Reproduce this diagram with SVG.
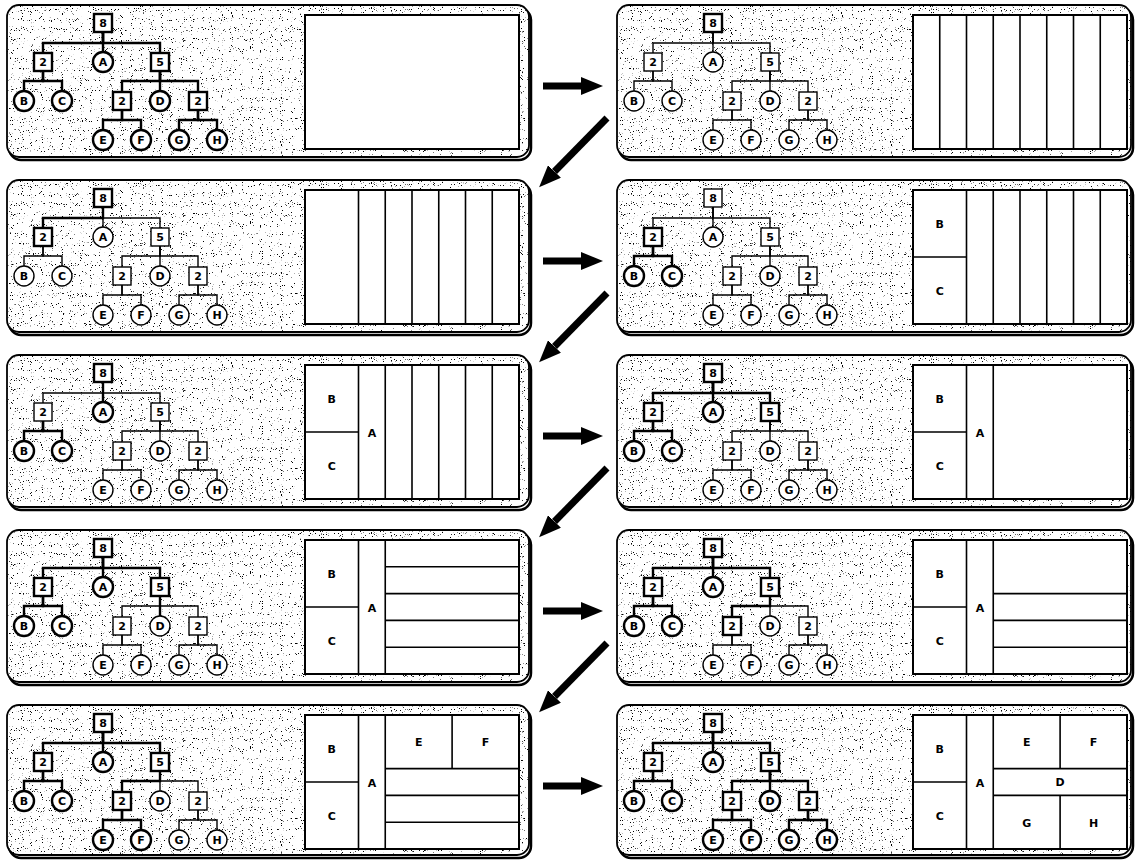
<svg xmlns="http://www.w3.org/2000/svg" width="1135" height="860" viewBox="0 0 1135 860">
<defs>
<style>
.sh{fill:none;stroke:#000;stroke-width:2.5}
.pb{fill:#fff;stroke:#000;stroke-width:1.8}
.gr{fill:#000;filter:url(#grain)}
.nb{fill:#fff;stroke:#000;stroke-width:2.4}
.nt{fill:#fff;stroke:#000;stroke-width:1.4}
.eb{fill:none;stroke:#000;stroke-width:2.4}
.et{fill:none;stroke:#000;stroke-width:1.4}
.tb{fill:#fff;stroke:#000;stroke-width:2}
.tl{fill:none;stroke:#000;stroke-width:1.6}
.arr{stroke:#000;stroke-width:7;fill:none;marker-end:url(#ah)}
text{font-family:"DejaVu Sans","Liberation Sans",sans-serif;font-weight:bold;font-size:11px;text-anchor:middle;fill:#000}
</style>
<filter id="grain" x="0" y="0" width="100%" height="100%">
<feTurbulence type="fractalNoise" baseFrequency="1.1" numOctaves="1" seed="5" result="t"/>
<feColorMatrix in="t" type="matrix" values="0 0 0 0 0  0 0 0 0 0  0 0 0 0 0  -18 0 0 0 6.1" result="d"/>
<feComposite in="d" in2="SourceAlpha" operator="in"/>
</filter>
<marker id="ah" viewBox="0 0 22 18" refX="0" refY="9" markerWidth="22" markerHeight="18" markerUnits="userSpaceOnUse" orient="auto">
<path d="M0 0L22 9L0 18z" fill="#000"/>
</marker>
</defs>

<!-- Panel 1 -->
<g id="p1" transform="translate(7,5)">
<rect class="sh" x="2" y="3" width="522" height="152" rx="12"/>
<rect class="pb" width="522" height="152" rx="12"/>
<rect class="gr" width="522" height="152" rx="12"/>
<g>
<path class="eb" d="M96 27V38H36V48"/><path class="eb" d="M96 27V47"/><path class="eb" d="M96 27V38H153V48"/>
<path class="eb" d="M36 66V76H17V86"/><path class="eb" d="M36 66V76H55V86"/>
<path class="eb" d="M153 66V76H115V87"/><path class="eb" d="M153 66V86"/><path class="eb" d="M153 66V76H191V87"/>
<path class="eb" d="M115 105V115H96V125"/><path class="eb" d="M115 105V115H134V125"/>
<path class="eb" d="M191 105V115H172V125"/><path class="eb" d="M191 105V115H210V125"/>
</g>
<g id="p1-r"><rect class="nb" x="87" y="9" width="18" height="18"/><text x="96" y="22">8</text></g>
<g id="p1-2"><rect class="nb" x="27" y="48" width="18" height="18"/><text x="36" y="61">2</text></g>
<g id="p1-A"><circle class="nb" cx="96" cy="57" r="10"/><text x="96" y="61">A</text></g>
<g id="p1-5"><rect class="nb" x="144" y="48" width="18" height="18"/><text x="153" y="61">5</text></g>
<g id="p1-B"><circle class="nb" cx="17" cy="96" r="10"/><text x="17" y="100">B</text></g>
<g id="p1-C"><circle class="nb" cx="55" cy="96" r="10"/><text x="55" y="100">C</text></g>
<g id="p1-2a"><rect class="nb" x="106" y="87" width="18" height="18"/><text x="115" y="100">2</text></g>
<g id="p1-D"><circle class="nb" cx="153" cy="96" r="10"/><text x="153" y="100">D</text></g>
<g id="p1-2b"><rect class="nb" x="182" y="87" width="18" height="18"/><text x="191" y="100">2</text></g>
<g id="p1-E"><circle class="nb" cx="96" cy="135" r="10"/><text x="96" y="139">E</text></g>
<g id="p1-F"><circle class="nb" cx="134" cy="135" r="10"/><text x="134" y="139">F</text></g>
<g id="p1-G"><circle class="nb" cx="172" cy="135" r="10"/><text x="172" y="139">G</text></g>
<g id="p1-H"><circle class="nb" cx="210" cy="135" r="10"/><text x="210" y="139">H</text></g>
<g id="p1-map" transform="translate(298,10)">
<rect class="tb" width="214" height="134"/>
</g>
</g>

<!-- Panel 2 -->
<g id="p2" transform="translate(617,5)">
<rect class="sh" x="2" y="3" width="514" height="152" rx="12"/>
<rect class="pb" width="514" height="152" rx="12"/>
<rect class="gr" width="514" height="152" rx="12"/>
<g>
<path class="et" d="M96 27V38H36V48"/><path class="et" d="M96 27V47"/><path class="et" d="M96 27V38H153V48"/>
<path class="et" d="M36 66V76H17V86"/><path class="et" d="M36 66V76H55V86"/>
<path class="et" d="M153 66V76H115V87"/><path class="et" d="M153 66V86"/><path class="et" d="M153 66V76H191V87"/>
<path class="et" d="M115 105V115H96V125"/><path class="et" d="M115 105V115H134V125"/>
<path class="et" d="M191 105V115H172V125"/><path class="et" d="M191 105V115H210V125"/>
</g>
<g id="p2-r"><rect class="nb" x="87" y="9" width="18" height="18"/><text x="96" y="22">8</text></g>
<g id="p2-2"><rect class="nt" x="27" y="48" width="18" height="18"/><text x="36" y="61">2</text></g>
<g id="p2-A"><circle class="nt" cx="96" cy="57" r="10"/><text x="96" y="61">A</text></g>
<g id="p2-5"><rect class="nt" x="144" y="48" width="18" height="18"/><text x="153" y="61">5</text></g>
<g id="p2-B"><circle class="nt" cx="17" cy="96" r="10"/><text x="17" y="100">B</text></g>
<g id="p2-C"><circle class="nt" cx="55" cy="96" r="10"/><text x="55" y="100">C</text></g>
<g id="p2-2a"><rect class="nt" x="106" y="87" width="18" height="18"/><text x="115" y="100">2</text></g>
<g id="p2-D"><circle class="nt" cx="153" cy="96" r="10"/><text x="153" y="100">D</text></g>
<g id="p2-2b"><rect class="nt" x="182" y="87" width="18" height="18"/><text x="191" y="100">2</text></g>
<g id="p2-E"><circle class="nt" cx="96" cy="135" r="10"/><text x="96" y="139">E</text></g>
<g id="p2-F"><circle class="nt" cx="134" cy="135" r="10"/><text x="134" y="139">F</text></g>
<g id="p2-G"><circle class="nt" cx="172" cy="135" r="10"/><text x="172" y="139">G</text></g>
<g id="p2-H"><circle class="nt" cx="210" cy="135" r="10"/><text x="210" y="139">H</text></g>
<g id="p2-map" transform="translate(296,10)">
<rect class="tb" width="214" height="134"/>
<path class="tl" d="M26.75 0V134M53.5 0V134M80.25 0V134M107 0V134M133.75 0V134M160.5 0V134M187.25 0V134"/>
</g>
</g>

<!-- Panel 3 -->
<g id="p3" transform="translate(7,180)">
<rect class="sh" x="2" y="3" width="522" height="152" rx="12"/>
<rect class="pb" width="522" height="152" rx="12"/>
<rect class="gr" width="522" height="152" rx="12"/>
<g>
<path class="et" d="M96 27V47"/><path class="et" d="M96 27V38H153V48"/>
<path class="et" d="M36 66V76H17V86"/><path class="et" d="M36 66V76H55V86"/>
<path class="et" d="M153 66V76H115V87"/><path class="et" d="M153 66V86"/><path class="et" d="M153 66V76H191V87"/>
<path class="et" d="M115 105V115H96V125"/><path class="et" d="M115 105V115H134V125"/>
<path class="et" d="M191 105V115H172V125"/><path class="et" d="M191 105V115H210V125"/>
<path class="eb" d="M96 27V38H36V48"/>
</g>
<g id="p3-r"><rect class="nb" x="87" y="9" width="18" height="18"/><text x="96" y="22">8</text></g>
<g id="p3-2"><rect class="nb" x="27" y="48" width="18" height="18"/><text x="36" y="61">2</text></g>
<g id="p3-A"><circle class="nt" cx="96" cy="57" r="10"/><text x="96" y="61">A</text></g>
<g id="p3-5"><rect class="nt" x="144" y="48" width="18" height="18"/><text x="153" y="61">5</text></g>
<g id="p3-B"><circle class="nt" cx="17" cy="96" r="10"/><text x="17" y="100">B</text></g>
<g id="p3-C"><circle class="nt" cx="55" cy="96" r="10"/><text x="55" y="100">C</text></g>
<g id="p3-2a"><rect class="nt" x="106" y="87" width="18" height="18"/><text x="115" y="100">2</text></g>
<g id="p3-D"><circle class="nt" cx="153" cy="96" r="10"/><text x="153" y="100">D</text></g>
<g id="p3-2b"><rect class="nt" x="182" y="87" width="18" height="18"/><text x="191" y="100">2</text></g>
<g id="p3-E"><circle class="nt" cx="96" cy="135" r="10"/><text x="96" y="139">E</text></g>
<g id="p3-F"><circle class="nt" cx="134" cy="135" r="10"/><text x="134" y="139">F</text></g>
<g id="p3-G"><circle class="nt" cx="172" cy="135" r="10"/><text x="172" y="139">G</text></g>
<g id="p3-H"><circle class="nt" cx="210" cy="135" r="10"/><text x="210" y="139">H</text></g>
<g id="p3-map" transform="translate(298,10)">
<rect class="tb" width="214" height="134"/>
<path class="tl" d="M53.5 0V134M80.25 0V134M107 0V134M133.75 0V134M160.5 0V134M187.25 0V134"/>
</g>
</g>

<!-- Panel 4 -->
<g id="p4" transform="translate(617,180)">
<rect class="sh" x="2" y="3" width="514" height="152" rx="12"/>
<rect class="pb" width="514" height="152" rx="12"/>
<rect class="gr" width="514" height="152" rx="12"/>
<g>
<path class="et" d="M96 27V38H36V48"/><path class="et" d="M96 27V47"/><path class="et" d="M96 27V38H153V48"/>
<path class="et" d="M153 66V76H115V87"/><path class="et" d="M153 66V86"/><path class="et" d="M153 66V76H191V87"/>
<path class="et" d="M115 105V115H96V125"/><path class="et" d="M115 105V115H134V125"/>
<path class="et" d="M191 105V115H172V125"/><path class="et" d="M191 105V115H210V125"/>
<path class="eb" d="M36 66V76H17V86"/><path class="eb" d="M36 66V76H55V86"/>
</g>
<g id="p4-r"><rect class="nt" x="87" y="9" width="18" height="18"/><text x="96" y="22">8</text></g>
<g id="p4-2"><rect class="nb" x="27" y="48" width="18" height="18"/><text x="36" y="61">2</text></g>
<g id="p4-A"><circle class="nt" cx="96" cy="57" r="10"/><text x="96" y="61">A</text></g>
<g id="p4-5"><rect class="nt" x="144" y="48" width="18" height="18"/><text x="153" y="61">5</text></g>
<g id="p4-B"><circle class="nb" cx="17" cy="96" r="10"/><text x="17" y="100">B</text></g>
<g id="p4-C"><circle class="nb" cx="55" cy="96" r="10"/><text x="55" y="100">C</text></g>
<g id="p4-2a"><rect class="nt" x="106" y="87" width="18" height="18"/><text x="115" y="100">2</text></g>
<g id="p4-D"><circle class="nt" cx="153" cy="96" r="10"/><text x="153" y="100">D</text></g>
<g id="p4-2b"><rect class="nt" x="182" y="87" width="18" height="18"/><text x="191" y="100">2</text></g>
<g id="p4-E"><circle class="nt" cx="96" cy="135" r="10"/><text x="96" y="139">E</text></g>
<g id="p4-F"><circle class="nt" cx="134" cy="135" r="10"/><text x="134" y="139">F</text></g>
<g id="p4-G"><circle class="nt" cx="172" cy="135" r="10"/><text x="172" y="139">G</text></g>
<g id="p4-H"><circle class="nt" cx="210" cy="135" r="10"/><text x="210" y="139">H</text></g>
<g id="p4-map" transform="translate(296,10)">
<rect class="tb" width="214" height="134"/>
<path class="tl" d="M53.5 0V134M80.25 0V134M107 0V134M133.75 0V134M160.5 0V134M187.25 0V134M0 67H53.5"/>
<text x="26.75" y="38">B</text><text x="26.75" y="105">C</text>
</g>
</g>

<!-- Panel 5 -->
<g id="p5" transform="translate(7,355)">
<rect class="sh" x="2" y="3" width="522" height="152" rx="12"/>
<rect class="pb" width="522" height="152" rx="12"/>
<rect class="gr" width="522" height="152" rx="12"/>
<g>
<path class="et" d="M96 27V38H36V48"/><path class="et" d="M96 27V38H153V48"/>
<path class="et" d="M153 66V76H115V87"/><path class="et" d="M153 66V86"/><path class="et" d="M153 66V76H191V87"/>
<path class="et" d="M115 105V115H96V125"/><path class="et" d="M115 105V115H134V125"/>
<path class="et" d="M191 105V115H172V125"/><path class="et" d="M191 105V115H210V125"/>
<path class="eb" d="M96 27V47"/>
<path class="eb" d="M36 66V76H17V86"/><path class="eb" d="M36 66V76H55V86"/>
</g>
<g id="p5-r"><rect class="nb" x="87" y="9" width="18" height="18"/><text x="96" y="22">8</text></g>
<g id="p5-2"><rect class="nt" x="27" y="48" width="18" height="18"/><text x="36" y="61">2</text></g>
<g id="p5-A"><circle class="nb" cx="96" cy="57" r="10"/><text x="96" y="61">A</text></g>
<g id="p5-5"><rect class="nt" x="144" y="48" width="18" height="18"/><text x="153" y="61">5</text></g>
<g id="p5-B"><circle class="nb" cx="17" cy="96" r="10"/><text x="17" y="100">B</text></g>
<g id="p5-C"><circle class="nb" cx="55" cy="96" r="10"/><text x="55" y="100">C</text></g>
<g id="p5-2a"><rect class="nt" x="106" y="87" width="18" height="18"/><text x="115" y="100">2</text></g>
<g id="p5-D"><circle class="nt" cx="153" cy="96" r="10"/><text x="153" y="100">D</text></g>
<g id="p5-2b"><rect class="nt" x="182" y="87" width="18" height="18"/><text x="191" y="100">2</text></g>
<g id="p5-E"><circle class="nt" cx="96" cy="135" r="10"/><text x="96" y="139">E</text></g>
<g id="p5-F"><circle class="nt" cx="134" cy="135" r="10"/><text x="134" y="139">F</text></g>
<g id="p5-G"><circle class="nt" cx="172" cy="135" r="10"/><text x="172" y="139">G</text></g>
<g id="p5-H"><circle class="nt" cx="210" cy="135" r="10"/><text x="210" y="139">H</text></g>
<g id="p5-map" transform="translate(298,10)">
<rect class="tb" width="214" height="134"/>
<path class="tl" d="M53.5 0V134M80.25 0V134M107 0V134M133.75 0V134M160.5 0V134M187.25 0V134M0 67H53.5"/>
<text x="26.75" y="38">B</text><text x="26.75" y="105">C</text><text x="66.9" y="72">A</text>
</g>
</g>

<!-- Panel 6 -->
<g id="p6" transform="translate(617,355)">
<rect class="sh" x="2" y="3" width="514" height="152" rx="12"/>
<rect class="pb" width="514" height="152" rx="12"/>
<rect class="gr" width="514" height="152" rx="12"/>
<g>
<path class="et" d="M153 66V76H115V87"/><path class="et" d="M153 66V86"/><path class="et" d="M153 66V76H191V87"/>
<path class="et" d="M115 105V115H96V125"/><path class="et" d="M115 105V115H134V125"/>
<path class="et" d="M191 105V115H172V125"/><path class="et" d="M191 105V115H210V125"/>
<path class="eb" d="M96 27V38H36V48"/><path class="eb" d="M96 27V47"/><path class="eb" d="M96 27V38H153V48"/>
<path class="eb" d="M36 66V76H17V86"/><path class="eb" d="M36 66V76H55V86"/>
</g>
<g id="p6-r"><rect class="nb" x="87" y="9" width="18" height="18"/><text x="96" y="22">8</text></g>
<g id="p6-2"><rect class="nb" x="27" y="48" width="18" height="18"/><text x="36" y="61">2</text></g>
<g id="p6-A"><circle class="nb" cx="96" cy="57" r="10"/><text x="96" y="61">A</text></g>
<g id="p6-5"><rect class="nb" x="144" y="48" width="18" height="18"/><text x="153" y="61">5</text></g>
<g id="p6-B"><circle class="nb" cx="17" cy="96" r="10"/><text x="17" y="100">B</text></g>
<g id="p6-C"><circle class="nb" cx="55" cy="96" r="10"/><text x="55" y="100">C</text></g>
<g id="p6-2a"><rect class="nt" x="106" y="87" width="18" height="18"/><text x="115" y="100">2</text></g>
<g id="p6-D"><circle class="nt" cx="153" cy="96" r="10"/><text x="153" y="100">D</text></g>
<g id="p6-2b"><rect class="nt" x="182" y="87" width="18" height="18"/><text x="191" y="100">2</text></g>
<g id="p6-E"><circle class="nt" cx="96" cy="135" r="10"/><text x="96" y="139">E</text></g>
<g id="p6-F"><circle class="nt" cx="134" cy="135" r="10"/><text x="134" y="139">F</text></g>
<g id="p6-G"><circle class="nt" cx="172" cy="135" r="10"/><text x="172" y="139">G</text></g>
<g id="p6-H"><circle class="nt" cx="210" cy="135" r="10"/><text x="210" y="139">H</text></g>
<g id="p6-map" transform="translate(296,10)">
<rect class="tb" width="214" height="134"/>
<path class="tl" d="M53.5 0V134M80.25 0V134M0 67H53.5"/>
<text x="26.75" y="38">B</text><text x="26.75" y="105">C</text><text x="66.9" y="72">A</text>
</g>
</g>

<!-- Panel 7 -->
<g id="p7" transform="translate(7,530)">
<rect class="sh" x="2" y="3" width="522" height="152" rx="12"/>
<rect class="pb" width="522" height="152" rx="12"/>
<rect class="gr" width="522" height="152" rx="12"/>
<g>
<path class="et" d="M153 66V76H115V87"/><path class="et" d="M153 66V76H191V87"/>
<path class="et" d="M115 105V115H96V125"/><path class="et" d="M115 105V115H134V125"/>
<path class="et" d="M191 105V115H172V125"/><path class="et" d="M191 105V115H210V125"/>
<path class="eb" d="M153 66V86"/>
<path class="eb" d="M96 27V38H36V48"/><path class="eb" d="M96 27V47"/><path class="eb" d="M96 27V38H153V48"/>
<path class="eb" d="M36 66V76H17V86"/><path class="eb" d="M36 66V76H55V86"/>
</g>
<g id="p7-r"><rect class="nb" x="87" y="9" width="18" height="18"/><text x="96" y="22">8</text></g>
<g id="p7-2"><rect class="nb" x="27" y="48" width="18" height="18"/><text x="36" y="61">2</text></g>
<g id="p7-A"><circle class="nb" cx="96" cy="57" r="10"/><text x="96" y="61">A</text></g>
<g id="p7-5"><rect class="nb" x="144" y="48" width="18" height="18"/><text x="153" y="61">5</text></g>
<g id="p7-B"><circle class="nb" cx="17" cy="96" r="10"/><text x="17" y="100">B</text></g>
<g id="p7-C"><circle class="nb" cx="55" cy="96" r="10"/><text x="55" y="100">C</text></g>
<g id="p7-2a"><rect class="nt" x="106" y="87" width="18" height="18"/><text x="115" y="100">2</text></g>
<g id="p7-D"><circle class="nt" cx="153" cy="96" r="10"/><text x="153" y="100">D</text></g>
<g id="p7-2b"><rect class="nt" x="182" y="87" width="18" height="18"/><text x="191" y="100">2</text></g>
<g id="p7-E"><circle class="nt" cx="96" cy="135" r="10"/><text x="96" y="139">E</text></g>
<g id="p7-F"><circle class="nt" cx="134" cy="135" r="10"/><text x="134" y="139">F</text></g>
<g id="p7-G"><circle class="nt" cx="172" cy="135" r="10"/><text x="172" y="139">G</text></g>
<g id="p7-H"><circle class="nt" cx="210" cy="135" r="10"/><text x="210" y="139">H</text></g>
<g id="p7-map" transform="translate(298,10)">
<rect class="tb" width="214" height="134"/>
<path class="tl" d="M53.5 0V134M80.25 0V134M0 67H53.5M80.25 26.8H214M80.25 53.6H214M80.25 80.4H214M80.25 107.2H214"/>
<text x="26.75" y="38">B</text><text x="26.75" y="105">C</text><text x="66.9" y="72">A</text>
</g>
</g>

<!-- Panel 8 -->
<g id="p8" transform="translate(617,530)">
<rect class="sh" x="2" y="3" width="514" height="152" rx="12"/>
<rect class="pb" width="514" height="152" rx="12"/>
<rect class="gr" width="514" height="152" rx="12"/>
<g>
<path class="et" d="M153 66V86"/><path class="et" d="M153 66V76H191V87"/>
<path class="et" d="M115 105V115H96V125"/><path class="et" d="M115 105V115H134V125"/>
<path class="et" d="M191 105V115H172V125"/><path class="et" d="M191 105V115H210V125"/>
<path class="eb" d="M153 66V76H115V87"/>
<path class="eb" d="M96 27V38H36V48"/><path class="eb" d="M96 27V47"/><path class="eb" d="M96 27V38H153V48"/>
<path class="eb" d="M36 66V76H17V86"/><path class="eb" d="M36 66V76H55V86"/>
</g>
<g id="p8-r"><rect class="nb" x="87" y="9" width="18" height="18"/><text x="96" y="22">8</text></g>
<g id="p8-2"><rect class="nb" x="27" y="48" width="18" height="18"/><text x="36" y="61">2</text></g>
<g id="p8-A"><circle class="nb" cx="96" cy="57" r="10"/><text x="96" y="61">A</text></g>
<g id="p8-5"><rect class="nb" x="144" y="48" width="18" height="18"/><text x="153" y="61">5</text></g>
<g id="p8-B"><circle class="nb" cx="17" cy="96" r="10"/><text x="17" y="100">B</text></g>
<g id="p8-C"><circle class="nb" cx="55" cy="96" r="10"/><text x="55" y="100">C</text></g>
<g id="p8-2a"><rect class="nb" x="106" y="87" width="18" height="18"/><text x="115" y="100">2</text></g>
<g id="p8-D"><circle class="nt" cx="153" cy="96" r="10"/><text x="153" y="100">D</text></g>
<g id="p8-2b"><rect class="nt" x="182" y="87" width="18" height="18"/><text x="191" y="100">2</text></g>
<g id="p8-E"><circle class="nt" cx="96" cy="135" r="10"/><text x="96" y="139">E</text></g>
<g id="p8-F"><circle class="nt" cx="134" cy="135" r="10"/><text x="134" y="139">F</text></g>
<g id="p8-G"><circle class="nt" cx="172" cy="135" r="10"/><text x="172" y="139">G</text></g>
<g id="p8-H"><circle class="nt" cx="210" cy="135" r="10"/><text x="210" y="139">H</text></g>
<g id="p8-map" transform="translate(296,10)">
<rect class="tb" width="214" height="134"/>
<path class="tl" d="M53.5 0V134M80.25 0V134M0 67H53.5M80.25 53.6H214M80.25 80.4H214M80.25 107.2H214"/>
<text x="26.75" y="38">B</text><text x="26.75" y="105">C</text><text x="66.9" y="72">A</text>
</g>
</g>

<!-- Panel 9 -->
<g id="p9" transform="translate(7,705)">
<rect class="sh" x="2" y="3" width="522" height="150" rx="12"/>
<rect class="pb" width="522" height="150" rx="12"/>
<rect class="gr" width="522" height="150" rx="12"/>
<g>
<path class="et" d="M153 66V86"/><path class="et" d="M153 66V76H191V87"/>
<path class="et" d="M191 105V115H172V125"/><path class="et" d="M191 105V115H210V125"/>
<path class="eb" d="M153 66V76H115V87"/>
<path class="eb" d="M115 105V115H96V125"/><path class="eb" d="M115 105V115H134V125"/>
<path class="eb" d="M96 27V38H36V48"/><path class="eb" d="M96 27V47"/><path class="eb" d="M96 27V38H153V48"/>
<path class="eb" d="M36 66V76H17V86"/><path class="eb" d="M36 66V76H55V86"/>
</g>
<g id="p9-r"><rect class="nb" x="87" y="9" width="18" height="18"/><text x="96" y="22">8</text></g>
<g id="p9-2"><rect class="nb" x="27" y="48" width="18" height="18"/><text x="36" y="61">2</text></g>
<g id="p9-A"><circle class="nb" cx="96" cy="57" r="10"/><text x="96" y="61">A</text></g>
<g id="p9-5"><rect class="nb" x="144" y="48" width="18" height="18"/><text x="153" y="61">5</text></g>
<g id="p9-B"><circle class="nb" cx="17" cy="96" r="10"/><text x="17" y="100">B</text></g>
<g id="p9-C"><circle class="nb" cx="55" cy="96" r="10"/><text x="55" y="100">C</text></g>
<g id="p9-2a"><rect class="nb" x="106" y="87" width="18" height="18"/><text x="115" y="100">2</text></g>
<g id="p9-D"><circle class="nt" cx="153" cy="96" r="10"/><text x="153" y="100">D</text></g>
<g id="p9-2b"><rect class="nt" x="182" y="87" width="18" height="18"/><text x="191" y="100">2</text></g>
<g id="p9-E"><circle class="nb" cx="96" cy="135" r="10"/><text x="96" y="139">E</text></g>
<g id="p9-F"><circle class="nb" cx="134" cy="135" r="10"/><text x="134" y="139">F</text></g>
<g id="p9-G"><circle class="nt" cx="172" cy="135" r="10"/><text x="172" y="139">G</text></g>
<g id="p9-H"><circle class="nt" cx="210" cy="135" r="10"/><text x="210" y="139">H</text></g>
<g id="p9-map" transform="translate(298,10)">
<rect class="tb" width="214" height="134"/>
<path class="tl" d="M53.5 0V134M80.25 0V134M0 67H53.5M80.25 53.6H214M80.25 80.4H214M80.25 107.2H214M147.1 0V53.6"/>
<text x="26.75" y="38">B</text><text x="26.75" y="105">C</text><text x="66.9" y="72">A</text>
<text x="113.7" y="31">E</text><text x="180.6" y="31">F</text>
</g>
</g>

<!-- Panel 10 -->
<g id="p10" transform="translate(617,705)">
<rect class="sh" x="2" y="3" width="514" height="150" rx="12"/>
<rect class="pb" width="514" height="150" rx="12"/>
<rect class="gr" width="514" height="150" rx="12"/>
<g>
<path class="eb" d="M96 27V38H36V48"/><path class="eb" d="M96 27V47"/><path class="eb" d="M96 27V38H153V48"/>
<path class="eb" d="M36 66V76H17V86"/><path class="eb" d="M36 66V76H55V86"/>
<path class="eb" d="M153 66V76H115V87"/><path class="eb" d="M153 66V86"/><path class="eb" d="M153 66V76H191V87"/>
<path class="eb" d="M115 105V115H96V125"/><path class="eb" d="M115 105V115H134V125"/>
<path class="eb" d="M191 105V115H172V125"/><path class="eb" d="M191 105V115H210V125"/>
</g>
<g id="p10-r"><rect class="nb" x="87" y="9" width="18" height="18"/><text x="96" y="22">8</text></g>
<g id="p10-2"><rect class="nb" x="27" y="48" width="18" height="18"/><text x="36" y="61">2</text></g>
<g id="p10-A"><circle class="nb" cx="96" cy="57" r="10"/><text x="96" y="61">A</text></g>
<g id="p10-5"><rect class="nb" x="144" y="48" width="18" height="18"/><text x="153" y="61">5</text></g>
<g id="p10-B"><circle class="nb" cx="17" cy="96" r="10"/><text x="17" y="100">B</text></g>
<g id="p10-C"><circle class="nb" cx="55" cy="96" r="10"/><text x="55" y="100">C</text></g>
<g id="p10-2a"><rect class="nb" x="106" y="87" width="18" height="18"/><text x="115" y="100">2</text></g>
<g id="p10-D"><circle class="nb" cx="153" cy="96" r="10"/><text x="153" y="100">D</text></g>
<g id="p10-2b"><rect class="nb" x="182" y="87" width="18" height="18"/><text x="191" y="100">2</text></g>
<g id="p10-E"><circle class="nb" cx="96" cy="135" r="10"/><text x="96" y="139">E</text></g>
<g id="p10-F"><circle class="nb" cx="134" cy="135" r="10"/><text x="134" y="139">F</text></g>
<g id="p10-G"><circle class="nb" cx="172" cy="135" r="10"/><text x="172" y="139">G</text></g>
<g id="p10-H"><circle class="nb" cx="210" cy="135" r="10"/><text x="210" y="139">H</text></g>
<g id="p10-map" transform="translate(296,10)">
<rect class="tb" width="214" height="134"/>
<path class="tl" d="M53.5 0V134M80.25 0V134M0 67H53.5M80.25 53.6H214M80.25 80.4H214M147.1 0V53.6M147.1 80.4V134"/>
<text x="26.75" y="38">B</text><text x="26.75" y="105">C</text><text x="66.9" y="72">A</text>
<text x="113.7" y="31">E</text><text x="180.6" y="31">F</text>
<text x="147.1" y="71">D</text>
<text x="113.7" y="112">G</text><text x="180.6" y="112">H</text>
</g>
</g>

<!-- Connectors -->
<g id="connectors">
<line class="arr" x1="543" y1="86" x2="581" y2="86"/>
<line class="arr" x1="607" y1="118" x2="554.5" y2="171.5"/>
<line class="arr" x1="543" y1="261" x2="581" y2="261"/>
<line class="arr" x1="607" y1="293" x2="554.5" y2="346.5"/>
<line class="arr" x1="543" y1="436" x2="581" y2="436"/>
<line class="arr" x1="607" y1="468" x2="554.5" y2="521.5"/>
<line class="arr" x1="543" y1="611" x2="581" y2="611"/>
<line class="arr" x1="607" y1="643" x2="554.5" y2="696.5"/>
<line class="arr" x1="543" y1="786" x2="581" y2="786"/>
</g>
</svg>
